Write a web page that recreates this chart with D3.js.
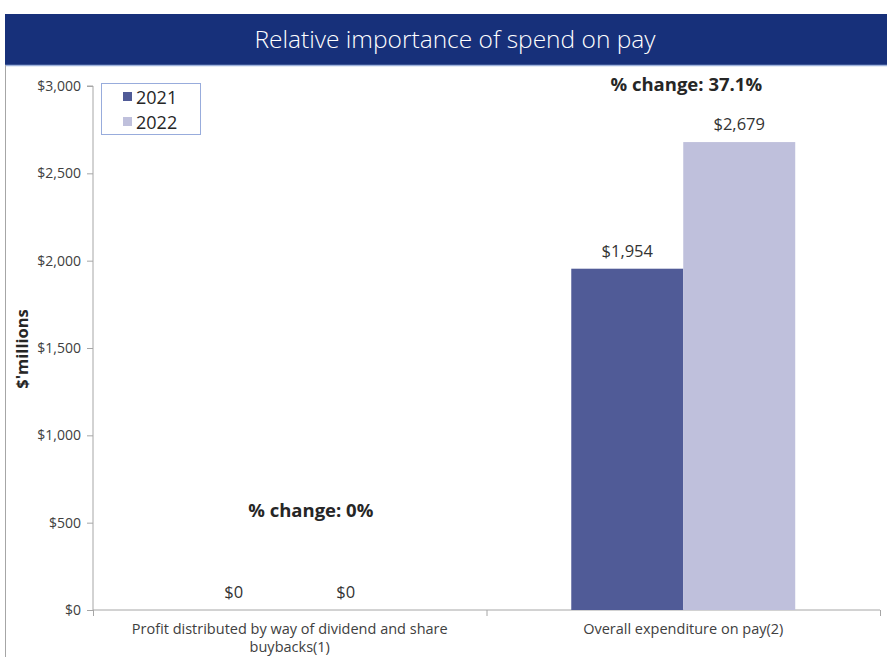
<!DOCTYPE html>
<html><head><meta charset="utf-8">
<script src="https://cdn.jsdelivr.net/npm/d3@7"></script>
<style>body{margin:0;background:#fff;font-family:"Open Sans",sans-serif}</style>
</head><body>
<svg id="c" width="887" height="657"></svg>
<script>
const categories = ["Profit distributed by way of dividend and share buybacks(1)", "Overall expenditure on pay(2)"];
const seriesNames = ["2021", "2022"];
const values2021 = [0, 1954];
const values2022 = [0, 2679];
const changeLabels = ["% change: 0%", "% change: 37.1%"];
const yTicks = [0, 500, 1000, 1500, 2000, 2500, 3000];
const colors = ["#505b97", "#bfc0dc"];

const svg = d3.select("#c");
const W = 887, H = 657;
const m = {l: 93, r: 880, t: 86, b: 610};

// banner
svg.append("rect").attr("x", 5).attr("y", 14).attr("width", W - 5).attr("height", 51).attr("fill", "#17307a");
svg.append("line").attr("x1", 5).attr("x2", W).attr("y1", 65.5).attr("y2", 65.5).attr("stroke", "#9fb3dc").attr("stroke-width", 1.5);
svg.append("line").attr("x1", 5.5).attr("x2", 5.5).attr("y1", 65).attr("y2", H).attr("stroke", "#a6a6a6");
svg.append("text").attr("x", 455).attr("y", 48).attr("text-anchor", "middle").attr("fill", "#fff")
  .attr("font-size", 24.5).attr("font-weight", 300).text("Relative importance of spend on pay");

const x0 = d3.scaleBand().domain(categories).range([m.l, m.r]).paddingInner(0).paddingOuter(0);
const x1 = d3.scaleBand().domain(seriesNames).range([0, x0.bandwidth()]).paddingInner(0).paddingOuter(0.757);
const y = d3.scaleLinear().domain([0, 3000]).range([m.b, m.t]);

// y axis
const ya = svg.append("g").attr("transform", `translate(${m.l},0)`)
  .call(d3.axisLeft(y).tickValues(yTicks).tickSize(6).tickPadding(6).tickFormat(d => "$" + d3.format(",")(d)));
ya.select(".domain").attr("stroke", "#a6a6a6").attr("d", `M-6,${m.t}H0V${m.b}`);
ya.selectAll(".tick line").attr("stroke", "#a6a6a6");
ya.selectAll("text").attr("font-size", 14).attr("fill", "#404040").attr("font-family", "Open Sans");

// x axis
const xa = svg.append("g").attr("transform", `translate(0,${m.b})`)
  .call(d3.axisBottom(x0).tickSize(0).tickFormat(""));
xa.select(".domain").attr("stroke", "#a6a6a6").attr("d", `M${m.l},0H${m.r}`);
[m.l, x0(categories[1]), m.r].forEach(v => {
  svg.append("line").attr("x1", v + 0.5).attr("x2", v + 0.5).attr("y1", m.b).attr("y2", m.b + 6).attr("stroke", "#a6a6a6");
});

// category labels (wrapped)
const catLines = [["Profit distributed by way of dividend and share", "buybacks(1)"], ["Overall expenditure on pay(2)"]];
categories.forEach((c, i) => {
  const cx = x0(c) + x0.bandwidth() / 2;
  catLines[i].forEach((ln, j) => {
    svg.append("text").attr("x", cx).attr("y", 634 + j * 18).attr("text-anchor", "middle")
      .attr("font-size", 14.5).attr("fill", "#404040").text(ln);
  });
});

// bars
const data = categories.map((c, i) => ({c, vals: [values2021[i], values2022[i]]}));
const g = svg.append("g");
data.forEach(d => {
  d.vals.forEach((v, k) => {
    const bx = x0(d.c) + x1(seriesNames[k]);
    g.append("rect").attr("x", bx).attr("y", y(v)).attr("width", x1.bandwidth()).attr("height", y(0) - y(v)).attr("fill", colors[k]);
    g.append("text").attr("x", bx + x1.bandwidth() / 2).attr("y", y(v) - 12).attr("text-anchor", "middle")
      .attr("font-size", 16.5).attr("fill", "#333").text("$" + d3.format(",")(v));
  });
});

// change labels
svg.append("text").attr("x", x0(categories[0]) + x0.bandwidth() / 2 + 21).attr("y", 517).attr("text-anchor", "middle")
  .attr("font-size", 18.5).attr("font-weight", 700).attr("fill", "#262626").text(changeLabels[0]);
svg.append("text").attr("x", x0(categories[1]) + x0.bandwidth() / 2 + 3).attr("y", 91).attr("text-anchor", "middle")
  .attr("font-size", 18.5).attr("font-weight", 700).attr("fill", "#262626").text(changeLabels[1]);

// y title
svg.append("text").attr("transform", "translate(28,349) rotate(-90)").attr("text-anchor", "middle")
  .attr("font-size", 16.5).attr("font-weight", 700).attr("fill", "#262626").text("$'millions");

// legend
const lg = svg.append("g");
lg.append("rect").attr("x", 101.5).attr("y", 83.5).attr("width", 99).attr("height", 51).attr("fill", "#fff").attr("stroke", "#98acdc");
seriesNames.forEach((s, i) => {
  lg.append("rect").attr("x", 123).attr("y", 92 + i * 25).attr("width", 9).attr("height", 9).attr("fill", colors[i]);
  lg.append("text").attr("x", 136).attr("y", 104 + i * 25).attr("font-size", 18).attr("fill", "#262626").text(s);
});
</script>
</body></html>
